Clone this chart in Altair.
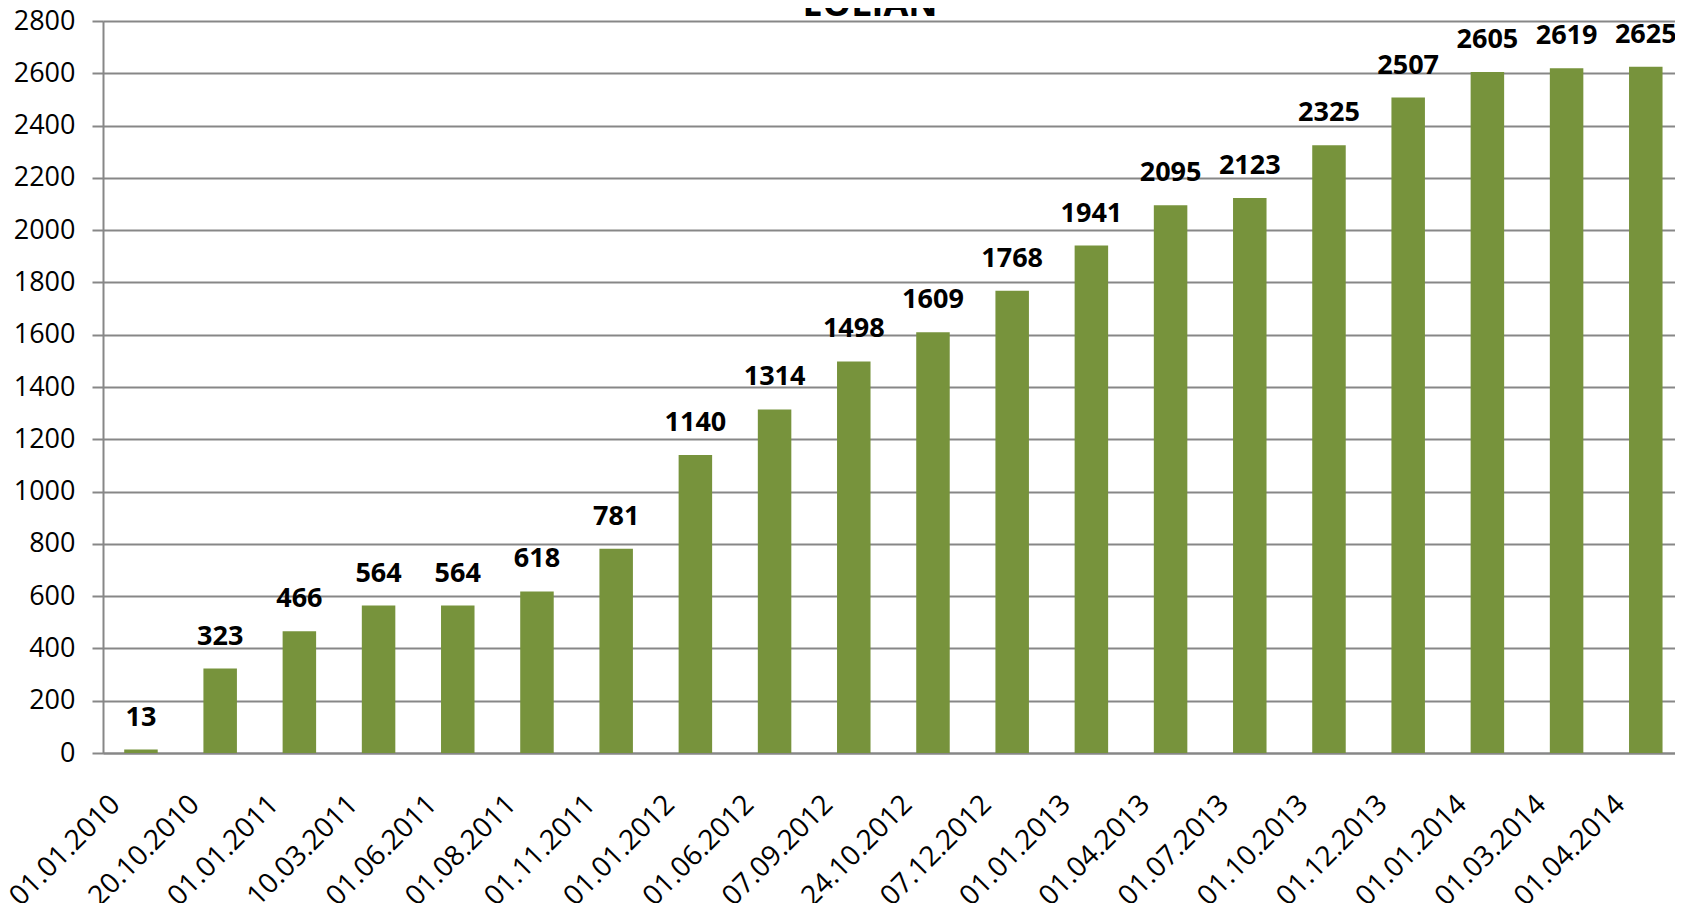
import altair as alt
import pandas as pd

dates = ["01.01.2010", "20.10.2010", "01.01.2011", "10.03.2011", "01.06.2011",
         "01.08.2011", "01.11.2011", "01.01.2012", "01.06.2012", "07.09.2012",
         "24.10.2012", "07.12.2012", "01.01.2013", "01.04.2013", "01.07.2013",
         "01.10.2013", "01.12.2013", "01.01.2014", "01.03.2014", "01.04.2014"]
values = [13, 323, 466, 564, 564, 618, 781, 1140, 1314, 1498,
          1609, 1768, 1941, 2095, 2123, 2325, 2507, 2605, 2619, 2625]
y_ticks = list(range(0, 2801, 200))
title_text = "EOLIAN"

df = pd.DataFrame({"date": dates, "value": values})

FONT = "Open Sans"
GRID = "#878787"

x = alt.X("date:N", sort=dates, title=None,
          scale=alt.Scale(paddingInner=0.577, paddingOuter=0.2126, align=0.63),
          axis=alt.Axis(labelAngle=-45, labelAlign="right", labelBaseline="middle",
                        labelFont=FONT, labelFontSize=28, labelColor="#000000",
                        labelPadding=47, labelOffset=-25, ticks=False,
                        domainColor=GRID, domainWidth=2, grid=False, labelOverlap=False))
y = alt.Y("value:Q", title=None,
          scale=alt.Scale(domain=[0, 2800], nice=False),
          axis=alt.Axis(values=y_ticks, format="d", labelFont=FONT, labelFontSize=27,
                        labelColor="#000000", labelPadding=17, tickSize=11,
                        tickColor=GRID, tickWidth=2, domainColor=GRID, domainWidth=2,
                        gridColor=GRID, gridWidth=2, gridOpacity=1))

bars = alt.Chart(df).mark_bar(color="#77933C").encode(x=x, y=y)
labels = alt.Chart(df).mark_text(font=FONT, fontSize=27, fontWeight="bold",
                                 color="#000000", baseline="alphabetic", dy=-24).encode(
    x=alt.X("date:N", sort=dates), y="value:Q", text="value:Q")
title = alt.Chart(pd.DataFrame({"t": [title_text]})).mark_text(
    font=FONT, fontSize=36, fontWeight="bold", color="#000000",
    baseline="alphabetic", align="center").encode(
    x=alt.value(767), y=alt.value(-5), text="t:N")

chart = alt.layer(bars, labels, title).properties(
    width=1572, height=732,
    autosize=alt.AutoSizeParams(type="none"),
    padding={"left": 95, "top": 13, "right": 0, "bottom": 150},
).configure_view(stroke=None).configure(background="white")

chart.save("out.html", embed_options={"renderer": "svg", "actions": False})
